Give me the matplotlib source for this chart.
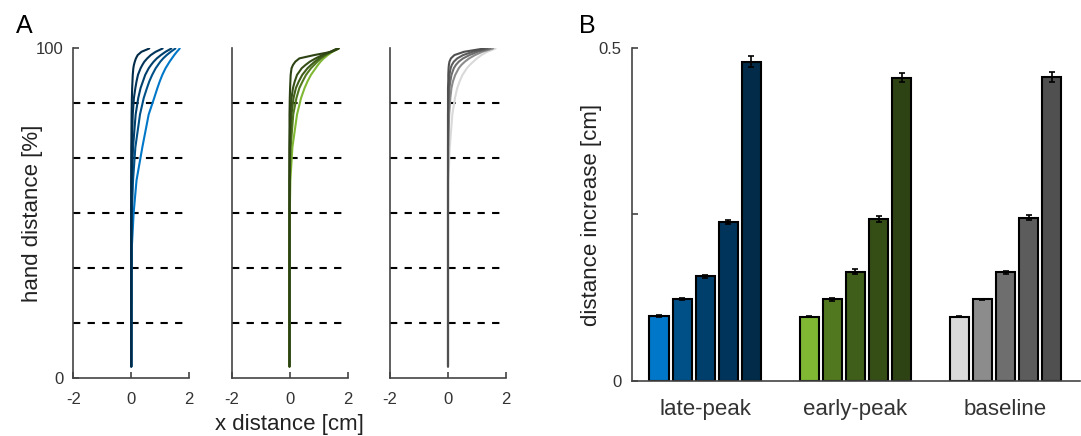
import matplotlib
matplotlib.use("Agg")
import matplotlib.pyplot as plt

plt.rcParams["font.family"] = ["Liberation Sans", "DejaVu Sans"]

# ---- panel A: hand paths (x distance at given hand-distance levels) ----
hand_levels = [3.5, 40, 50, 60, 70, 80, 85, 88, 90, 92, 94, 95, 96, 97, 98, 99, 100]

late_paths = [
    [0, 0.02, 0.08, 0.18, 0.38, 0.60, 0.79, 0.90, 0.98, 1.07, 1.18, 1.25, 1.32, 1.40, 1.48, 1.57, 1.67],
    [0, 0, 0.02, 0.06, 0.14, 0.30, 0.43, 0.54, 0.62, 0.72, 0.84, 0.92, 1.00, 1.10, 1.22, 1.36, 1.52],
    [0, 0, 0, 0.02, 0.06, 0.15, 0.24, 0.32, 0.40, 0.48, 0.60, 0.68, 0.77, 0.88, 1.02, 1.18, 1.38],
    [0, 0, 0, 0, 0.02, 0.05, 0.09, 0.14, 0.18, 0.23, 0.32, 0.38, 0.45, 0.55, 0.67, 0.84, 1.08],
    [0, 0, 0, 0, 0, 0.01, 0.02, 0.03, 0.04, 0.05, 0.07, 0.09, 0.12, 0.16, 0.22, 0.35, 0.62],
]
early_paths = [
    [0, 0, 0.01, 0.03, 0.10, 0.26, 0.40, 0.52, 0.62, 0.74, 0.90, 0.98, 1.07, 1.18, 1.32, 1.48, 1.70],
    [0, 0, 0, 0.01, 0.04, 0.13, 0.24, 0.34, 0.45, 0.57, 0.74, 0.85, 0.96, 1.09, 1.25, 1.45, 1.68],
    [0, 0, 0, 0, 0.02, 0.07, 0.14, 0.22, 0.32, 0.44, 0.62, 0.74, 0.87, 1.02, 1.20, 1.42, 1.66],
    [0, 0, 0, 0, 0, 0.03, 0.07, 0.12, 0.18, 0.26, 0.42, 0.55, 0.70, 0.90, 1.13, 1.40, 1.66],
    [0, 0, 0, 0, 0, 0, 0.01, 0.02, 0.03, 0.04, 0.07, 0.12, 0.20, 0.34, 0.85, 1.45, 1.70],
]
base_paths = [
    [0, 0, 0, 0.01, 0.06, 0.15, 0.24, 0.32, 0.40, 0.50, 0.65, 0.75, 0.87, 1.00, 1.15, 1.35, 1.64],
    [0, 0, 0, 0, 0.01, 0.04, 0.08, 0.12, 0.17, 0.25, 0.37, 0.46, 0.58, 0.73, 0.93, 1.18, 1.55],
    [0, 0, 0, 0, 0, 0.01, 0.03, 0.05, 0.08, 0.12, 0.20, 0.27, 0.37, 0.52, 0.74, 1.02, 1.45],
    [0, 0, 0, 0, 0, 0, 0.01, 0.02, 0.03, 0.05, 0.09, 0.13, 0.20, 0.32, 0.52, 0.85, 1.35],
    [0, 0, 0, 0, 0, 0, 0, 0, 0.01, 0.01, 0.02, 0.03, 0.05, 0.10, 0.22, 0.55, 1.24],
]
bins = [16.67, 33.33, 50, 66.67, 83.33]

# ---- panel B: distance increase per condition ----
conditions = ["late-peak", "early-peak", "baseline"]
late_vals = [0.097, 0.123, 0.157, 0.239, 0.480]
early_vals = [0.096, 0.122, 0.164, 0.243, 0.456]
base_vals = [0.096, 0.122, 0.163, 0.245, 0.457]
late_err = [0.001, 0.002, 0.002, 0.003, 0.008]
early_err = [0.001, 0.002, 0.0035, 0.005, 0.0065]
base_err = [0.001, 0.001, 0.002, 0.004, 0.0075]

blues = ["#0077c8", "#005088", "#003f6c", "#00345a", "#012b48"]
greens = ["#80b834", "#52781f", "#3f5e1a", "#354e16", "#2e4314"]
greys = ["#d9d9d9", "#8c8c8c", "#6e6e6e", "#5c5c5c", "#505050"]

SPINE = "#444444"
TXT = "#333333"

fig = plt.figure(figsize=(10.81, 4.36), dpi=100)

# panel A
a_lefts = [73.3, 231.5, 390.0]
groups = [(late_paths, blues), (early_paths, greens), (base_paths, greys)]
for k, (paths, cols) in enumerate(groups):
    ax = fig.add_axes([a_lefts[k] / 1081, 58 / 436, 116 / 1081, 329.5 / 436])
    for b in bins:
        ax.plot([-2, 2], [b, b], color="k", lw=1.5, dashes=(3.5, 3.5))
    for xs, c in zip(paths, cols):
        ax.plot(xs, hand_levels, color=c, lw=1.5, solid_capstyle="round")
    ax.set_xlim(-2, 2)
    ax.set_ylim(0, 100)
    ax.set_xticks([-2, 0, 2])
    ax.set_xticklabels(["-2", "0", "2"])
    for s in ["top", "right"]:
        ax.spines[s].set_visible(False)
    for s in ["left", "bottom"]:
        ax.spines[s].set_color(SPINE)
        ax.spines[s].set_linewidth(1.2)
    ax.tick_params(direction="in", length=4, width=1.2, color=SPINE,
                   labelcolor=TXT, labelsize=12, pad=10)
    if k == 0:
        ax.set_yticks([0, 100])
        ax.tick_params(axis="y", pad=7)
        ax.set_ylabel("hand distance [%]", fontsize=16, color="#222222")
        ax.yaxis.set_label_coords(-0.265, 0.5)
    else:
        ax.set_yticks([])
    if k == 1:
        ax.set_xlabel("x distance [cm]", fontsize=16, color="#222222", labelpad=5)

# panel B
axb = fig.add_axes([631.5 / 1081, 55.5 / 436, 448.5 / 1081, 332 / 436])
bw = 0.83
for g, (vals, errs, cols) in enumerate([(late_vals, late_err, blues),
                                         (early_vals, early_err, greens),
                                         (base_vals, base_err, greys)]):
    xs = [g * 6.5 + i - 2 for i in range(5)]
    axb.bar(xs, vals, width=bw, color=cols, edgecolor="k", linewidth=1.5, zorder=2)
    axb.errorbar(xs, vals, yerr=errs, fmt="none", ecolor="k", elinewidth=1.2,
                 capsize=2.5, capthick=1.2, zorder=3)
axb.set_xlim(-3.19, 16.22)
axb.set_ylim(0, 0.5)
axb.set_yticks([0, 0.25, 0.5])
axb.set_yticklabels(["0", "", "0.5"])
axb.set_xticks([6.5 * g for g in range(3)])
axb.set_xticklabels(conditions)
for s in ["top", "right"]:
    axb.spines[s].set_visible(False)
for s in ["left", "bottom"]:
    axb.spines[s].set_color(SPINE)
    axb.spines[s].set_linewidth(1.2)
axb.tick_params(axis="y", direction="in", length=4, width=1.2, color=SPINE,
                labelcolor=TXT, labelsize=12, pad=7)
axb.tick_params(axis="x", length=0, labelcolor=TXT, labelsize=16, pad=13)
axb.set_ylabel("distance increase [cm]", fontsize=16, color="#222222")
axb.yaxis.set_label_coords(-0.066, 0.5)

fig.text(16 / 1081, 1 - 33 / 436, "A", fontsize=18, color="k")
fig.text(579 / 1081, 1 - 33 / 436, "B", fontsize=18, color="k")

fig.savefig("out.png", dpi=100)
